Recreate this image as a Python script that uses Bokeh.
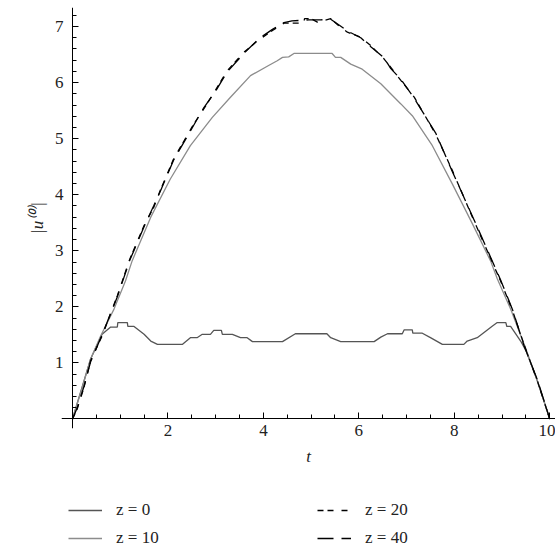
from bokeh.plotting import figure
from bokeh.models import Range1d, FixedTicker, Legend, LegendItem, LinearAxis
from bokeh.layouts import column
from bokeh.embed import file_html
from bokeh.resources import INLINE

# ---- data ----
t_z0 = [0, 0.38, 0.62, 0.8, 0.94, 0.95, 1.15, 1.16, 1.29, 1.5, 1.64, 1.78, 2.3, 2.47, 2.61,
        2.72, 2.89, 2.96, 3.12, 3.14, 3.35, 3.52, 3.66, 3.77, 4.40, 4.67, 5.33, 5.41, 5.62,
        6.32, 6.46, 6.6, 6.91, 6.95, 7.12, 7.13, 7.33, 7.5, 7.75, 8.2, 8.27, 8.48, 8.8, 8.9,
        9.08, 9.1, 9.18, 9.39, 9.5, 9.74, 10]
u_z0 = [0, 1.07, 1.51, 1.64, 1.64, 1.72, 1.72, 1.65, 1.65, 1.51, 1.39, 1.33, 1.33, 1.45, 1.45,
        1.51, 1.51, 1.58, 1.58, 1.51, 1.51, 1.45, 1.45, 1.38, 1.38, 1.52, 1.52, 1.45, 1.38,
        1.38, 1.46, 1.52, 1.52, 1.59, 1.59, 1.53, 1.53, 1.45, 1.33, 1.33, 1.39, 1.45, 1.66, 1.72,
        1.72, 1.65, 1.65, 1.39, 1.22, 0.68, 0]

t_z10 = [0, 0.2, 0.38, 0.59, 0.87, 1.11, 1.25, 1.64, 2.05, 2.47, 2.93, 3.31, 3.73, 4.1, 4.29,
         4.40, 4.53, 4.64, 5.44, 5.51, 5.62, 5.83, 6.07, 6.46, 6.88, 7.12, 7.54, 7.96, 8.38,
         8.76, 8.9, 9.18, 9.5, 9.75, 10]
u_z10 = [0, 0.55, 1.07, 1.48, 1.96, 2.46, 2.82, 3.6, 4.28, 4.875, 5.38, 5.74, 6.125, 6.3, 6.39,
         6.45, 6.46, 6.52, 6.52, 6.45, 6.45, 6.33, 6.24, 5.98, 5.62, 5.41, 4.875, 4.19, 3.48,
         2.82, 2.5, 1.96, 1.25, 0.65, 0]

t_z20 = [0, 0.1, 0.24, 0.38, 0.62, 0.94, 1.2, 1.5, 1.7, 1.85, 2.12, 2.54, 2.75, 3.0, 3.24, 3.59,
         3.9, 4.19, 4.43, 4.57, 4.85, 4.86, 5.0, 5.13, 5.41, 5.6, 5.76, 6.04, 6.25, 6.53, 6.67,
         6.88, 7.16, 7.61, 7.96, 8.41, 8.97, 9.22, 9.46, 9.74, 10]
u_z20 = [0, 0.18, 0.56, 1.04, 1.48, 2.2, 2.85, 3.45, 3.77, 4.1, 4.64, 5.26, 5.53, 5.87, 6.21, 6.54,
         6.76, 6.93, 7.06, 7.06, 7.06, 7.14, 7.14, 7.08, 7.14, 7.0, 6.9, 6.81, 6.66, 6.42, 6.27,
         6.04, 5.74, 5.08, 4.43, 3.54, 2.46, 1.93, 1.33, 0.68, 0]

t_z40 = [0, 0.1, 0.24, 0.38, 0.62, 0.94, 1.2, 1.5, 1.7, 1.85, 2.12, 2.54, 2.75, 3.0, 3.24, 3.59,
         3.9, 4.19, 4.43, 4.6, 4.95, 5.2, 5.41, 5.6, 5.76, 6.04, 6.25, 6.53, 6.67,
         6.88, 7.16, 7.61, 7.96, 8.41, 8.97, 9.22, 9.46, 9.74, 10]
u_z40 = [0, 0.2, 0.58, 1.02, 1.5, 2.18, 2.83, 3.43, 3.8, 4.08, 4.62, 5.24, 5.55, 5.85, 6.19, 6.52,
         6.78, 6.95, 7.07, 7.1, 7.12, 7.12, 7.13, 7.02, 6.92, 6.8, 6.64, 6.44, 6.25,
         6.06, 5.72, 5.1, 4.41, 3.56, 2.48, 1.95, 1.31, 0.7, 0]

series_labels = ["z = 0", "z = 10", "z = 20", "z = 40"]
series = [(t_z0, u_z0), (t_z10, u_z10), (t_z20, u_z20), (t_z40, u_z40)]

x_major = [2, 4, 6, 8, 10]
x_minor = [0.5, 1, 1.5, 2.5, 3, 3.5, 4.5, 5, 5.5, 6.5, 7, 7.5, 8.5, 9, 9.5]
y_major = [1, 2, 3, 4, 5, 6, 7]
y_minor = [round(0.2 * i, 1) for i in range(1, 37) if i % 5 != 0]

FONT = "Liberation Serif"
TXT = "#222222"
STYLES = [
    dict(line_color="#555555", line_width=1.3),
    dict(line_color="#8c8c8c", line_width=1.3),
    dict(line_color="black", line_width=1.3, line_dash="6 4 6 8"),
    dict(line_color="black", line_width=1.3, line_dash="16 8"),
]

p = figure(width=555, height=478, frame_width=494, frame_height=421,
           output_backend="svg", toolbar_location=None,
           x_axis_location=None, y_axis_location=None,
           x_range=Range1d(-0.23, 10.12), y_range=Range1d(-0.17, 7.34),
           min_border_left=61, min_border_right=0, min_border_top=7, min_border_bottom=50)
p.outline_line_color = None
p.background_fill_color = "white"
p.border_fill_color = "white"
p.xgrid.visible = False
p.ygrid.visible = False

for (tt, uu), st in zip(series, STYLES):
    p.line(tt, uu, **st)

# label axes at the frame edges (no line, no ticks)
xlab = LinearAxis(ticker=FixedTicker(ticks=x_major), axis_label="t")
ylab = LinearAxis(ticker=FixedTicker(ticks=y_major), axis_label="|u⁽⁰⁾|")
for ax in (xlab, ylab):
    ax.axis_line_color = None
    ax.major_tick_line_color = None
    ax.minor_tick_line_color = None
    ax.major_tick_in = 0
    ax.major_tick_out = 0
    ax.minor_tick_in = 0
    ax.minor_tick_out = 0
    ax.major_label_text_font = FONT
    ax.major_label_text_font_size = "17px"
    ax.major_label_text_color = TXT
    ax.axis_label_text_font = FONT
    ax.axis_label_text_font_size = "17px"
    ax.axis_label_text_font_style = "italic"
    ax.axis_label_text_color = TXT
xlab.major_label_standoff = -4
ylab.major_label_standoff = -2
xlab.axis_label_standoff = 8
ylab.axis_label_standoff = 5
p.add_layout(xlab, "below")
p.add_layout(ylab, "left")

# line/tick axes crossing at the origin (no labels)
xline = LinearAxis(ticker=FixedTicker(ticks=x_major, minor_ticks=x_minor))
yline = LinearAxis(ticker=FixedTicker(ticks=y_major, minor_ticks=y_minor))
for ax in (xline, yline):
    ax.fixed_location = 0
    ax.axis_line_color = "black"
    ax.major_tick_line_color = "black"
    ax.minor_tick_line_color = "black"
    ax.major_tick_in = 6
    ax.major_tick_out = 0
    ax.minor_tick_in = 4
    ax.minor_tick_out = 0
    ax.major_label_text_font_size = "0px"
    ax.major_label_text_alpha = 0
    ax.major_label_standoff = 0
p.add_layout(xline, "below")
p.add_layout(yline, "left")

# legend in its own strip below the plot (same series, scrolled out of its view)
leg_fig = figure(width=555, height=70, output_backend="svg", toolbar_location=None,
                 x_axis_location=None, y_axis_location=None,
                 x_range=Range1d(100, 101), y_range=Range1d(100, 101),
                 min_border_left=61, min_border_right=0, min_border_top=0, min_border_bottom=0)
leg_fig.outline_line_color = None
leg_fig.xgrid.visible = False
leg_fig.ygrid.visible = False
leg_renderers = [leg_fig.line(tt, uu, **st) for (tt, uu), st in zip(series, STYLES)]

legend = Legend(items=[LegendItem(label=lab, renderers=[r])
                       for lab, r in zip(series_labels, leg_renderers)],
                orientation="vertical", ncols=2, location=(7, 0))
legend.glyph_width = 34
legend.label_standoff = 14
legend.label_width = 193
legend.label_height = 20
legend.glyph_height = 20
legend.spacing = 8
legend.margin = 0
legend.padding = 0
legend.border_line_color = None
legend.background_fill_alpha = 0
legend.label_text_font = FONT
legend.label_text_font_size = "17px"
legend.label_text_color = TXT
leg_fig.add_layout(legend, "center")

layout = column(p, leg_fig, spacing=0)
open("out.html", "w").write(file_html(layout, INLINE))
